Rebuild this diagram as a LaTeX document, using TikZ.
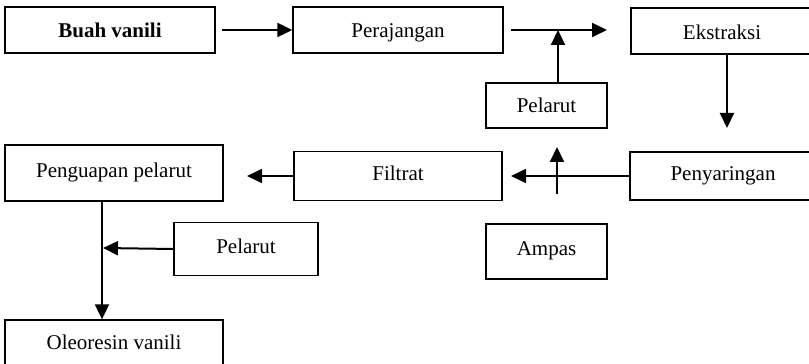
\documentclass[tikz,border=0pt]{standalone}
\usepackage{fontspec}
\setmainfont{Liberation Serif}
\usetikzlibrary{positioning, calc, arrows.meta}

\begin{document}
\begin{tikzpicture}[x=1pt, y=1pt, >={Triangle[length=15pt,width=14pt]},
  box/.style={draw, line width=1.3pt, inner sep=0pt, text height=14pt, text depth=5pt,
    font=\fontsize{21}{25}\selectfont},
  lowtext/.style={text height=20pt},
  flow/.style={->, line width=2pt}]
  \useasboundingbox (0,0) rectangle (809,364);
  \clip (0,0) rectangle (809,364);

  \node[box, lowtext, minimum width=210, minimum height=46] (buah) at (110,334) {\textbf{Buah vanili}};
  \node[box, lowtext, minimum width=210, minimum height=46] (rajang) at (398,334) {Perajangan};
  \node[box, lowtext, text height=23pt, minimum width=182, minimum height=46] (ekstrak) at (722,333) {Ekstraksi};
  \node[box, lowtext, minimum width=121, minimum height=45] (pelarutA) at (546.5,258.5) {Pelarut};

  \node[box, minimum width=186, minimum height=48] (saring) at (723,188) {Penyaringan};
  \node[box, minimum width=208, minimum height=49] (filtrat) at (398,188) {Filtrat};
  \node[box, minimum width=121, minimum height=55] (ampas) at (546.5,112.5) {Ampas};
  \node[box, minimum width=218, minimum height=56] (uap) at (114,191) {Penguapan pelarut};
  \node[box, minimum width=144, minimum height=53] (pelarutB) at (246,115) {Pelarut};
  \node[box, minimum width=218, minimum height=50] (oleo) at (114,19) {Oleoresin vanili};

  \coordinate (j1) at (558,334);
  \coordinate (e1) at (607,334);
  \coordinate (e2) at (727,236);
  \coordinate (e3) at (511,188);
  \coordinate (a1) at (557,170);
  \coordinate (a2) at (557,217);
  \coordinate (e4) at (247,188);
  \coordinate (j2) at (102,116);

  \draw[flow] ([xshift=6pt]buah.east) -- (rajang.west);
  \draw[flow] ([xshift=7pt]rajang.east) -- (e1);
  \draw[flow] (j1 |- pelarutA.north) -- (j1);
  \draw[flow] (e2 |- ekstrak.south) -- (e2);
  \draw[flow] (saring.west) -- (e3);
  \draw[flow] (a1) -- (a2);
  \draw[flow] (filtrat.west) -- (e4);
  \draw[flow] (j2 |- uap.south) -- (j2 |- oleo.north);
  \draw[flow] (pelarutB.west) -- ([xshift=1pt]j2);
\end{tikzpicture}
\end{document}
